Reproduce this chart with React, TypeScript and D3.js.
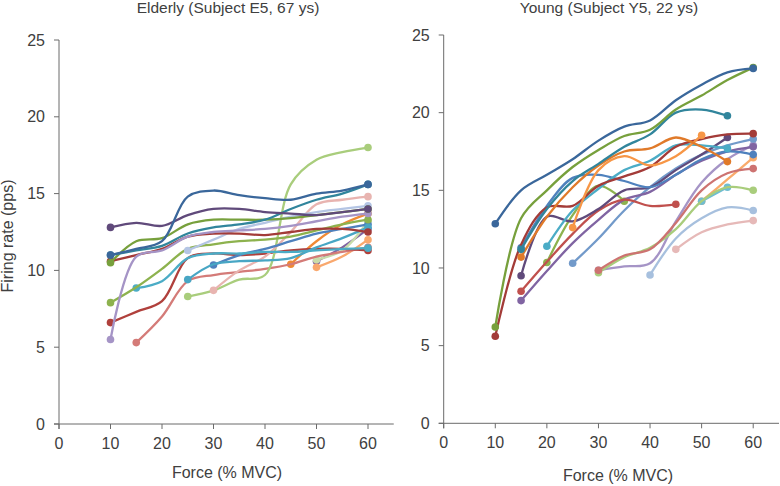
import React from 'react';
import * as d3 from 'd3';

// Force levels (% MVC) shared by every motor unit series
const forceLevels = [10, 15, 20, 25, 30, 35, 40, 45, 50, 55, 60];
const xTicks = [0, 10, 20, 30, 40, 50, 60];
const yTicks = [0, 5, 10, 15, 20, 25];
const _ = null;

// Elderly subject E5 - firing rate (pps) per force level
const e01 = [12.8, 13.1, 12.9, 13.6, 14.0, 14.0, 13.8, 13.7, 13.6, 13.8, 14.0];
const e02 = [11.0, 11.4, 11.9, 14.8, 15.2, 14.9, 14.7, 14.6, 15.0, 15.2, 15.6];
const e03 = [10.5, 11.9, 12.1, 13.0, 13.3, 13.3, 13.3, 13.4, 13.6, 13.8, 14.0];
const e04 = [11.0, 11.3, 11.6, 12.4, 12.8, 13.0, 13.3, 14.0, 14.6, 15.0, 15.6];
const e05 = [5.5, 10.9, 11.3, 12.2, 12.5, 12.6, 12.7, 12.9, 13.2, 13.5, 13.7];
const e06 = [10.6, 11.0, 11.4, 12.2, 12.4, 12.4, 12.3, 12.5, 12.7, 12.7, 12.5];
const e07 = [6.6, 7.3, 8.0, 10.8, 11.1, 11.0, 11.1, 11.3, 11.4, 11.4, 11.3];
const e08 = [_, _, _, 11.3, 12.0, 12.7, 13.1, 13.5, 13.8, 14.0, 14.2];
const e09 = [7.9, 8.9, 10.1, 11.4, 11.7, 11.9, 12.0, 12.2, 12.6, 13.0, 13.3];
const e10 = [_, 8.85, 9.3, 10.8, 11.1, 11.1, 11.2, 11.2, 11.3, 11.4, 11.45];
const e11 = [_, _, _, 9.4, 10.4, 10.6, 10.65, 10.8, 11.5, 12.1, 12.8];
const e12 = [_, 5.3, 7.0, 9.3, 9.7, 9.9, 10.1, 10.4, 10.9, 11.2, 11.5];
const e13 = [_, _, _, 8.3, 8.7, 9.4, 9.7, 15.6, 17.2, 17.7, 18.0];
const e14 = [_, _, _, _, 8.7, 10.0, 10.9, 12.5, 14.3, 14.6, 14.8];
const e15 = [_, _, _, _, 10.35, 11.0, 11.4, 11.9, 12.4, 12.7, 13.0];
const e16 = [_, _, _, _, _, _, _, 10.4, 11.9, 13.0, 13.7];
const e17 = [_, _, _, _, _, _, _, _, 10.2, 10.9, 12.0];
const e18 = [_, _, _, _, _, _, _, _, 10.7, 11.3, 13.2];
const e19 = [_, _, _, _, _, _, _, _, 10.6, 11.5, 12.7];

// Young subject Y5 - firing rate (pps) per force level
const y01 = [12.85, 15.0, 16.0, 17.0, 18.2, 19.1, 19.5, 20.8, 21.8, 22.6, 22.85];
const y02 = [6.2, 13.2, 15.0, 16.5, 17.6, 18.5, 18.9, 20.2, 21.1, 22.1, 22.9];
const y03 = [_, 11.2, 13.8, 15.6, 16.7, 17.8, 18.6, 20.0, 20.2, 19.8, _];
const y04 = [_, 10.7, 13.3, 15.2, 16.6, 17.5, 17.7, 18.4, 17.8, 16.85, _];
const y05 = [_, _, _, 12.6, 16.3, 17.2, 16.6, 17.2, 18.55, _, _];
const y06 = [5.6, 11.5, 13.9, 14.0, 15.3, 15.9, 16.5, 17.8, 18.3, 18.6, 18.65];
const y07 = [_, 8.5, 10.4, 12.2, 13.7, 14.4, 14.0, 14.1, _, _, _];
const y08 = [_, 9.5, 13.3, 13.0, 13.8, 15.0, 15.2, 16.3, 17.3, 18.4, _];
const y09 = [_, 7.9, 9.8, 11.6, 13.1, 14.4, 14.9, 16.0, 16.9, 17.5, 17.8];
const y10 = [_, 11.3, 14.0, 15.8, 16.0, 15.6, 15.2, 16.0, 17.0, 17.5, 17.3];
const y11 = [_, _, 11.4, 13.7, 15.1, 16.3, 16.9, 17.9, 17.9, 17.7, _];
const y12 = [_, _, 10.35, 13.4, 15.3, 14.3, _, _, _, _, _];
const y13 = [_, _, _, 10.3, 11.9, 13.7, 15.2, 16.4, 17.3, 17.9, 18.3];
const y14 = [_, _, _, _, 9.85, 10.8, 11.2, 12.9, 15.0, 16.1, 16.4];
const y15 = [_, _, _, _, 9.7, 10.7, 11.3, 12.5, 14.3, 15.2, 15.0];
const y16 = [_, _, _, _, 9.85, 10.1, 10.3, 13.0, 15.5, 17.0, 17.9];
const y17 = [_, _, _, _, _, _, 9.55, 11.9, 13.2, 13.9, 13.7];
const y18 = [_, _, _, _, _, _, _, 11.2, 12.3, 12.8, 13.05];
const y19 = [_, _, _, _, _, _, _, _, 14.3, 15.7, 17.1];
const y20 = [_, _, _, _, _, _, _, _, 14.3, 15.2, _];

const elderlySeries = [
  { values: e19, color: '#8064A2' },
  { values: e18, color: '#C9DCAA' },
  { values: e17, color: '#F9A86E' },
  { values: e16, color: '#F08A35' },
  { values: e12, color: '#D47B78' },
  { values: e07, color: '#B0403C' },
  { values: e13, color: '#A9CD7C' },
  { values: e14, color: '#E8B4B0' },
  { values: e15, color: '#4F81BD' },
  { values: e11, color: '#48A6C4' },
  { values: e10, color: '#4BACC6' },
  { values: e09, color: '#8DB24E' },
  { values: e08, color: '#B4C5E4' },
  { values: e06, color: '#A33B38' },
  { values: e05, color: '#A594C6' },
  { values: e03, color: '#77A03C' },
  { values: e04, color: '#31859C' },
  { values: e01, color: '#604A7B' },
  { values: e02, color: '#3A679B' },
];

const youngSeries = [
  { values: y19, color: '#F9AB6B' },
  { values: y20, color: '#6FBDD1' },
  { values: y18, color: '#E6B9B8' },
  { values: y17, color: '#A7C0DE' },
  { values: y16, color: '#A594C6' },
  { values: y15, color: '#A9CD7C' },
  { values: y14, color: '#CD7371' },
  { values: y13, color: '#729ACA' },
  { values: y12, color: '#8DB24E' },
  { values: y09, color: '#8064A2' },
  { values: y07, color: '#C0504D' },
  { values: y08, color: '#604A7B' },
  { values: y10, color: '#4F81BD' },
  { values: y11, color: '#4BACC6' },
  { values: y06, color: '#A33B38' },
  { values: y05, color: '#F79646' },
  { values: y04, color: '#E07A2A' },
  { values: y03, color: '#31859C' },
  { values: y02, color: '#77A03C' },
  { values: y01, color: '#3A679B' },
];

const font = '"Liberation Sans", Arial, sans-serif';
const textColor = '#404040';
const axisColor = '#6b6b6b';

interface PanelProps {
  title: string;
  series: { values: (number | null)[]; color: string }[];
  xRange: [number, number];
  yRange: [number, number];
  titleX: number;
  labelX: number;
  labelY: number;
  showYLabel?: boolean;
}

const Panel: React.FC<PanelProps> = ({ title, series, xRange, yRange, titleX, labelX, labelY, showYLabel }) => {
  const x = d3.scaleLinear().domain([0, 65]).range(xRange);
  const y = d3.scaleLinear().domain([0, 25]).range(yRange);
  const line = d3.line<[number, number]>()
    .x(d => x(d[0]))
    .y(d => y(d[1]))
    .curve(d3.curveCatmullRom.alpha(0.5));

  const x0 = x(0);
  const y0 = y(0);

  return (
    <g>
      <text x={titleX} y={13} textAnchor="middle" fontSize={15.5} fill={textColor} fontFamily={font}>{title}</text>
      {/* axes */}
      <line x1={x0} x2={x0} y1={y(25)} y2={y0 + 5} stroke={axisColor} strokeWidth={1} />
      <line x1={x0 - 5} x2={x(65)} y1={y0} y2={y0} stroke={axisColor} strokeWidth={1} />
      {yTicks.map(t => (
        <g key={'y' + t}>
          <line x1={x0 - 5} x2={x0} y1={y(t)} y2={y(t)} stroke={axisColor} />
          <text x={x0 - 14} y={y(t)} dy="0.35em" textAnchor="end" fontSize={16} fill={textColor} fontFamily={font}>{t}</text>
        </g>
      ))}
      {xTicks.map(t => (
        <g key={'x' + t}>
          <line x1={x(t)} x2={x(t)} y1={y0} y2={y0 + 5} stroke={axisColor} />
          <text x={x(t)} y={y0 + 25} textAnchor="middle" fontSize={16} fill={textColor} fontFamily={font}>{t}</text>
        </g>
      ))}
      <text x={labelX} y={labelY} textAnchor="middle" fontSize={16} fill={textColor} fontFamily={font}>Force (% MVC)</text>
      {showYLabel && (
        <text transform={`translate(13, 236) rotate(-90)`} textAnchor="middle" fontSize={16} fill={textColor} fontFamily={font}>Firing rate (pps)</text>
      )}
      {/* motor unit series */}
      {series.map((s, i) => {
        const pts: [number, number][] = forceLevels
          .map((f, j) => [f, s.values[j]] as [number, number | null])
          .filter(p => p[1] !== null) as [number, number][];
        const ends = [pts[0], pts[pts.length - 1]];
        return (
          <g key={i}>
            <path d={line(pts) || ''} fill="none" stroke={s.color} strokeWidth={2.3} strokeLinecap="round" />
            {ends.map((p, k) => (
              <circle key={k} cx={x(p[0])} cy={y(p[1])} r={3.8} fill={s.color} />
            ))}
          </g>
        );
      })}
    </g>
  );
};

export default function App() {
  return (
    <svg width={780} height={486} style={{ position: 'absolute', left: 0, top: 0, background: '#fff' }}>
      <rect width={780} height={486} fill="#fff" />
      <Panel
        title="Elderly (Subject E5, 67 ys)"
        series={elderlySeries}
        xRange={[59, 393.75]}
        yRange={[424, 40]}
        titleX={228}
        labelX={227}
        labelY={478}
        showYLabel
      />
      <Panel
        title="Young (Subject Y5, 22 ys)"
        series={youngSeries}
        xRange={[443.7, 779]}
        yRange={[423.3, 35]}
        titleX={609}
        labelX={618}
        labelY={481}
      />
    </svg>
  );
}
